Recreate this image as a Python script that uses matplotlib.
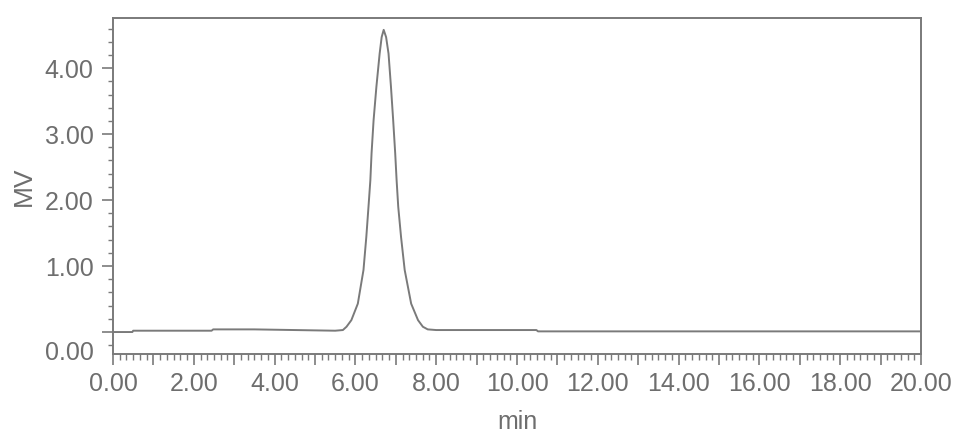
import matplotlib
matplotlib.use("Agg")
from matplotlib import pyplot as plt
from matplotlib.transforms import ScaledTranslation
from matplotlib.ticker import MultipleLocator

# chromatogram trace (time in min, signal in MV)
time_min = [0.00, 0.48, 0.50, 2.44, 2.48, 3.50, 4.50, 5.50, 5.69, 5.78, 5.90, 6.06,
            6.20, 6.27, 6.33, 6.37, 6.40, 6.45, 6.52, 6.60, 6.65, 6.70, 6.76, 6.82,
            6.88, 6.935, 6.985, 7.02, 7.06, 7.13, 7.22, 7.38, 7.55, 7.67, 7.79, 8.00,
            10.48, 10.52, 14.00, 20.00]
signal_mv = [0.00, 0.00, 0.02, 0.02, 0.04, 0.04, 0.03, 0.02, 0.03, 0.08, 0.18, 0.43,
             0.94, 1.44, 1.95, 2.30, 2.71, 3.21, 3.72, 4.22, 4.47, 4.58, 4.47, 4.22,
             3.72, 3.21, 2.71, 2.30, 1.90, 1.44, 0.94, 0.43, 0.18, 0.08, 0.04, 0.03,
             0.03, 0.01, 0.01, 0.01]

y_ticks = [0, 1, 2, 3, 4]
y_labels = ["0.00", "1.00", "2.00", "3.00", "4.00"]
x_ticks = list(range(0, 21))
x_labels = [f"{v:.2f}" if v % 2 == 0 else "" for v in x_ticks]

grey = "#7a7a7a"
text_grey = "#6e6e6e"
plt.rcParams["font.family"] = ["Liberation Sans", "DejaVu Sans"]

fig = plt.figure(figsize=(9.69, 4.45), dpi=100)
ax = fig.add_axes([0.1166, 0.2045, 0.8339, 0.7551])

ax.plot(time_min, signal_mv, color=grey, linewidth=1.4)

ax.set_xlim(0, 20)
ax.set_ylim(-0.333, 4.76)

ax.set_xticks(x_ticks)
ax.set_xticklabels(x_labels)
ax.xaxis.set_minor_locator(MultipleLocator(1 / 6))
ax.set_yticks(y_ticks)
ax.set_yticklabels(y_labels)
ax.yaxis.set_minor_locator(MultipleLocator(0.2))

for s in ax.spines.values():
    s.set_color(grey)
    s.set_linewidth(1.4)

ax.tick_params(axis="both", which="major", color=grey, width=1.2, labelcolor=text_grey,
               labelsize=18)
ax.tick_params(axis="x", which="major", length=8, pad=5)
ax.tick_params(axis="x", which="minor", length=4, color=grey, width=1.0)
ax.tick_params(axis="y", which="major", length=8, pad=6)
ax.tick_params(axis="y", which="minor", length=3.5, color=grey, width=1.0)

# the 0.00 label sits below its tick in the original
for lab in ax.get_yticklabels():
    if lab.get_text() == "0.00":
        lab.set_transform(lab.get_transform() + ScaledTranslation(0, -18 / 100, fig.dpi_scale_trans))

ax.set_xlabel("min", fontsize=18, color=text_grey, labelpad=10)
ax.set_ylabel("MV", fontsize=19, color=text_grey, labelpad=6)

fig.savefig("out.png", dpi=100)
